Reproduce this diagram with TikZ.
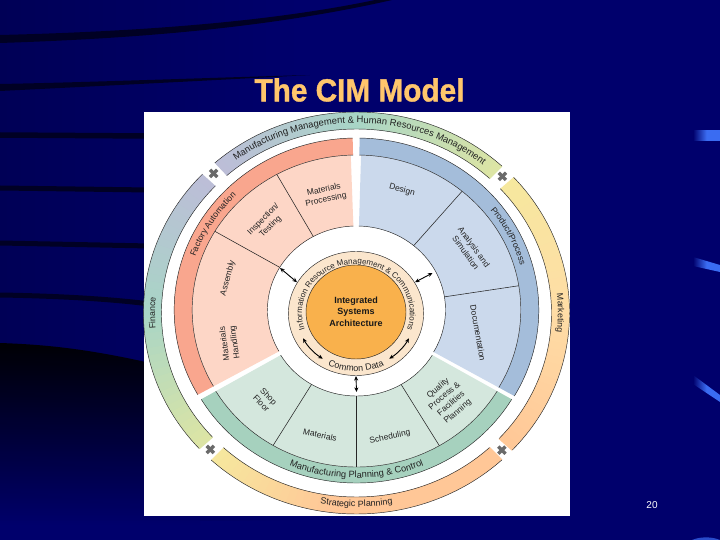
\documentclass[tikz,border=0pt]{standalone}
\usepackage{fontspec}
\setmainfont{Liberation Sans}
\newfontfamily\titlef[FakeBold=1.2]{Liberation Sans Bold}
\usetikzlibrary{decorations.text,arrows.meta}
\definecolor{navy}{HTML}{00006C}
\definecolor{navyd}{HTML}{000056}
\definecolor{streak}{HTML}{000024}
\definecolor{hilite}{HTML}{3A6CF2}
\definecolor{titlec}{HTML}{FFC66C}
\definecolor{txtc}{HTML}{222222}
\definecolor{lav}{HTML}{BDBDD8}
\definecolor{teal}{HTML}{A8D5C6}
\definecolor{ygreen}{HTML}{DDE5A4}
\definecolor{yell}{HTML}{F6E89E}
\definecolor{midor}{HTML}{FFDDA6}
\definecolor{peach}{HTML}{FFC797}
\definecolor{redband}{HTML}{F9A68E}
\definecolor{redsec}{HTML}{FDD6C6}
\definecolor{bluband}{HTML}{A4BDDA}
\definecolor{blusec}{HTML}{CBD9EC}
\definecolor{greband}{HTML}{A6D1BE}
\definecolor{gresec}{HTML}{D4E7DD}
\definecolor{ringc}{HTML}{FBE6CD}
\definecolor{orangec}{HTML}{F9B14C}
\definecolor{markc}{HTML}{6A6A6A}
\tikzset{
  outl/.style={draw=black!85,line width=0.45pt},
  divl/.style={draw=black!85,line width=0.55pt},
  dbl/.style={draw=black,line width=0.9pt,{Stealth[length=4.6pt,width=4pt]}-{Stealth[length=4.6pt,width=4pt]}},
  xmark/.style={draw=markc,line width=3.4pt},
  lab/.style={font=\fontsize{8.4}{10.2}\selectfont,text=txtc,align=center,inner sep=0pt},
}
\newcommand{\sector}[5]{%
  \path[#5] (#3:#1) arc[start angle=#3,end angle=#4,radius=#1] -- (#4:#2) arc[start angle=#4,end angle=#3,radius=#2] -- cycle;}
\newcommand{\arcline}[4]{%
  \path[#4] (#2:#1) arc[start angle=#2,end angle=#3,radius=#1];}
\newcommand{\gradring}[8]{%
  \foreach \gi in {0,...,39}{%
    \pgfmathsetmacro{\gstp}{(#5-(#3))/40}%
    \pgfmathsetmacro{\ga}{#3+\gi*\gstp}%
    \pgfmathsetmacro{\gb}{\ga+\gstp*1.1}%
    \pgfmathsetmacro{\gt}{(\gi+0.5)/40}%
    \pgfmathsetmacro{\gm}{(#4-(#3))/(#5-(#3))}%
    \pgfmathsetmacro{\gp}{\gt<\gm ? 100*\gt/\gm : 100*(\gt-\gm)/(1-\gm)}%
    \pgfmathparse{\gt<\gm ? 1 : 0}%
    \ifnum\pgfmathresult=1\relax
      \fill[#7!\gp!#6] (\ga:#1) -- (\ga:#2) -- (\gb:#2) -- (\gb:#1) -- cycle;%
    \else
      \fill[#8!\gp!#7] (\ga:#1) -- (\ga:#2) -- (\gb:#2) -- (\gb:#1) -- cycle;%
    \fi
  }%
  \arcline{#1}{#3}{#5}{outl}\arcline{#2}{#3}{#5}{outl}%
}
\newcommand{\curved}[5]{%
  \path[decorate,decoration={text along path,text align=center,text color=txtc,
    text={|\fontsize{#1}{#1}\selectfont|#5}}] (#3:#2) arc[start angle=#3,end angle=#4,radius=#2];}
\begin{document}
\begin{tikzpicture}[x=1pt,y=1pt]
\useasboundingbox (0,0) rectangle (720,-540);
\fill[navy] (0,0) rectangle (720,-540);
\shade[left color=navyd,right color=navy] (0,0) rectangle (300,-520);
\shade[top color=black,bottom color=navy,opacity=0.95] (0,-343) .. controls (60,-345) and (110,-352) .. (200,-375) -- (200,-525) -- (0,-525) -- cycle;
\fill[streak] (0,-35) .. controls (120,-32) and (260,-24) .. (375,0) -- (392,0) .. controls (260,-30) and (120,-39) .. (0,-43) -- cycle;
\fill[streak] (0,-84) .. controls (100,-82) and (200,-78) .. (310,-75) .. controls (200,-81) and (100,-86) .. (0,-91) -- cycle;
\draw[streak,line width=5.5pt] (0,-135) -- (150,-136);
\draw[streak,line width=5pt] (0,-188) -- (150,-190);
\draw[streak,line width=5pt] (0,-243) -- (150,-246);
\draw[streak,line width=5pt] (0,-295) .. controls (60,-296) and (110,-299) .. (150,-304);
\shade[left color=navy,right color=hilite,middle color=hilite] (693,-131) -- (720,-131) -- (720,-141) -- (693,-141) -- cycle;
\shade[left color=navy,right color=hilite,middle color=hilite] (693,-257) -- (720,-265) -- (720,-272) -- (693,-266) -- cycle;
\shade[left color=navy,right color=hilite,middle color=hilite] (693,-375) -- (720,-395) -- (720,-402) -- (693,-384) -- cycle;
\fill[hilite!70!navy] (692,-540) .. controls (700,-536.5) and (712,-536.5) .. (720,-540) -- cycle;
\node[name=title,inner sep=0pt,text=titlec,xscale=0.93] at (359.5,-90) {\fontsize{32}{34}\selectfont\titlef The CIM Model};
\node[name=pageno,inner sep=0pt,text=white] at (652,-505) {\fontsize{10}{12}\selectfont 20};
\fill[white] (144,-112) rectangle (570,-516);
\begin{scope}[x=1.06pt,y=1pt,shift={(336.3,-313)}]
  \gradring{184}{201}{131.7}{90}{47}{lav}{teal}{ygreen}
  \gradring{184}{201}{136.3}{180}{222.4}{lav}{teal}{ygreen}
  \gradring{184}{201}{42.5}{0}{-43}{yell}{midor}{peach}
  \gradring{184}{201}{227}{262}{313}{yell}{peach}{peach}
  \foreach \am in {134,44.8,224.7,-45}{
    \draw[xmark] (\am:194) ++(-3.6pt,-3.6pt) -- ++(7.2pt,7.2pt);
    \draw[xmark] (\am:194) ++(-3.6pt,3.6pt) -- ++(7.2pt,-7.2pt);
  }
  \curved{9.4}{190}{130}{48}{Manufacturing Management {\&} Human Resources Management}
  \curved{8.8}{190}{190}{170}{Finance}
  \curved{8.8}{190}{10}{-10}{Marketing}
  \curved{9}{194}{250}{290}{Strategic Planning}
\end{scope}
\begin{scope}[x=1.06pt,y=1pt,shift={(336.3,-310)}]
  \sector{155}{172}{91.2}{209.5}{fill=redband}
  \sector{84}{155}{92}{209.5}{fill=redsec}
  \arcline{172}{91.2}{209.5}{outl}\arcline{155}{91.2}{209.5}{outl}\arcline{84}{92}{209.5}{outl}
  \coordinate (rd1a) at (119:155); \coordinate (rd1b) at (119:84);
  \coordinate (rd2a) at (149.5:155); \coordinate (rd2b) at (149.5:84);
  \draw[divl] (rd1a) -- (rd1b);
  \draw[divl] (rd2a) -- (rd2b);
  \curved{8.6}{161}{176}{120}{Factory Automation}
  \sector{155}{172}{89}{-30}{fill=bluband}
  \sector{84}{155}{88.4}{-30}{fill=blusec}
  \arcline{172}{89}{-30}{outl}\arcline{155}{89}{-30}{outl}\arcline{84}{88.4}{-30}{outl}
  \coordinate (bd1a) at (50:155); \coordinate (bd1b) at (50:84);
  \coordinate (bd2a) at (9:155); \coordinate (bd2b) at (9:84);
  \draw[divl] (bd1a) -- (bd1b);
  \draw[divl] (bd2a) -- (bd2b);
  \curved{8.6}{161}{52}{2}{Product/Process}
\end{scope}
\begin{scope}[x=1.06pt,y=1pt,shift={(336.3,-313)}]
  \sector{154}{170}{210.5}{329.5}{fill=greband}
  \sector{83}{154}{210.5}{329.5}{fill=gresec}
  \arcline{170}{210.5}{329.5}{outl}\arcline{154}{210.5}{329.5}{outl}\arcline{83}{210.5}{329.5}{outl}
  \coordinate (gd1a) at (239.3:154); \coordinate (gd1b) at (239.3:83);
  \coordinate (gd2a) at (270:154); \coordinate (gd2b) at (270:83);
  \coordinate (gd3a) at (300.5:154); \coordinate (gd3b) at (300.5:83);
  \draw[divl] (gd1a) -- (gd1b);
  \draw[divl] (gd2a) -- (gd2b);
  \draw[divl] (gd3a) -- (gd3b);
  \curved{9.2}{165}{235}{305}{Manufacturing Planning {\&} Control}
\end{scope}
\begin{scope}[x=1.09pt,y=1pt,shift={(326.6,-313.5)}]
  \path[fill=ringc,outl] (0,0) circle[radius=62];
  \curved{8}{49.5}{205}{-25}{Information Resource Management {\&} Communications}
  \curved{9}{58}{230}{310}{Common Data}
  \draw[dbl] (207:54.5) arc[start angle=207,end angle=236,radius=54.5];
  \draw[dbl] (-27:54.5) arc[start angle=-27,end angle=-56,radius=54.5];
  \coordinate (ra) at (150:62.5); \coordinate (rb) at (30:62.5); \coordinate (rc) at (270:62.5);
\end{scope}
\path[fill=orangec,outl] (356,-312) ellipse[x radius=50,y radius=47];
\node[name=core,inner sep=0pt,align=center,text=black!90,font=\fontsize{9}{11.6}\selectfont\bfseries] at (356,-311.5) {Integrated\\Systems\\Architecture};
\coordinate (sa) at (280,-268);
\coordinate (sb) at (432.5,-273);
\coordinate (sc) at (356.5,-392);
\draw[dbl] (sa) -- (ra);
\draw[dbl] (sb) -- (rb);
\draw[dbl] (sc) -- (rc);
\node[lab,rotate=12,name=n1] at (325,-195) {Materials\\Processing};
\node[lab,rotate=45,name=n2] at (267,-223) {Inspection/\\Testing};
\node[lab,rotate=75,name=n3] at (228,-278) {Assembly};
\node[lab,rotate=98,name=n4] at (230,-343) {Materials\\Handling};
\node[lab,rotate=-15,name=n5] at (402,-190) {Design};
\node[lab,rotate=-54,name=n6] at (470,-250) {Analysis and\\Simulation};
\node[lab,rotate=-80,name=n7] at (478,-333) {Documentation};
\node[lab,rotate=-45,name=n8] at (265,-400) {Shop\\Floor};
\node[lab,rotate=-12,name=n9] at (320,-435) {Materials};
\node[lab,rotate=12,name=n10] at (390,-437) {Scheduling};
\node[lab,rotate=40,name=n11] at (448,-400) {Quality\\Process \&\\Facilities\\Planning};
\end{tikzpicture}
\end{document}
